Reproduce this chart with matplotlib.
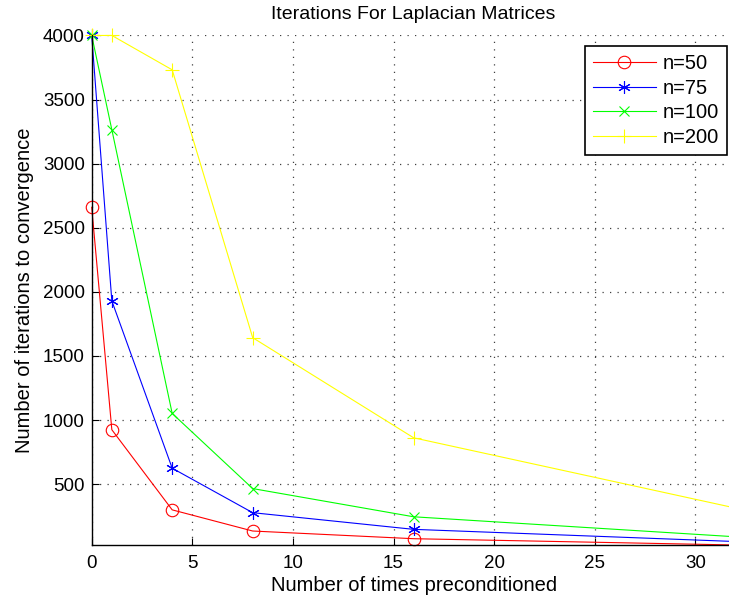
import matplotlib
matplotlib.use('Agg')
import matplotlib.pyplot as plt

plt.rcParams['font.family'] = ['Liberation Sans', 'DejaVu Sans']

# times preconditioned
x = [0, 1, 4, 8, 16, 32]

# iterations to convergence per matrix size
n50 = [2660, 925, 300, 135, 75, 26]
n75 = [4000, 1930, 625, 278, 148, 53]
n100 = [4000, 3265, 1052, 466, 246, 90]
n200 = [4000, 4000, 3732, 1643, 862, 314]

labels = ['n=50', 'n=75', 'n=100', 'n=200']
xticks = [0, 5, 10, 15, 20, 25, 30]
yticks = [500, 1000, 1500, 2000, 2500, 3000, 3500, 4000]


def main():
    fig = plt.figure(figsize=(7.29, 6.03), dpi=100)
    ax = fig.add_axes([0.1258, 0.0962, 0.8832, 0.845])

    series = [n50, n75, n100, n200]
    # matlab style asterisk for n=75
    styles = [('red', 'o', 9), ('blue', (6, 2, 0), 9), ('#00ff00', 'x', 7),
              ('yellow', '+', 10)]
    for ys, (c, m, ms), lab in zip(series, styles, labels):
        ax.plot(x, ys, color=c, marker=m, markersize=ms, markerfacecolor='none',
                markeredgecolor=c, markeredgewidth=0.8, linewidth=0.8,
                label=lab, clip_on=False)

    ax.set_xlim(0, 32)
    ax.set_ylim(min(min(s) for s in series), 4000)
    ax.set_xticks(xticks)
    ax.set_yticks(yticks)
    ax.tick_params(direction='in', length=5, width=0.8, labelsize=13.5,
                   colors='black')
    ax.tick_params(axis='x', pad=7)
    ax.tick_params(axis='y', pad=5)

    ax.grid(True, color='0.25', linestyle=(0, (1, 5)), linewidth=0.9)
    ax.set_axisbelow(True)
    for side in ['top', 'right']:
        ax.spines[side].set_visible(False)
    for side in ['left', 'bottom']:
        ax.spines[side].set_linewidth(1.0)

    ax.set_title('Iterations For Laplacian Matrices', fontsize=14, pad=12)
    ax.set_xlabel('Number of times preconditioned', fontsize=14.5, labelpad=3)
    ax.set_ylabel('Number of iterations to convergence', fontsize=14.5, labelpad=6)

    leg = ax.legend(loc='upper right', bbox_to_anchor=(727 / 729, 557 / 603),
                    bbox_transform=fig.transFigure, borderaxespad=0,
                    fancybox=False, framealpha=1, edgecolor='black',
                    fontsize=14.5, handlelength=3.1, handletextpad=0.35,
                    labelspacing=0.28, borderpad=0.4)
    leg.get_frame().set_linewidth(1.2)

    fig.savefig('out.png', dpi=100)
    plt.close(fig)


if __name__ == '__main__':
    main()
